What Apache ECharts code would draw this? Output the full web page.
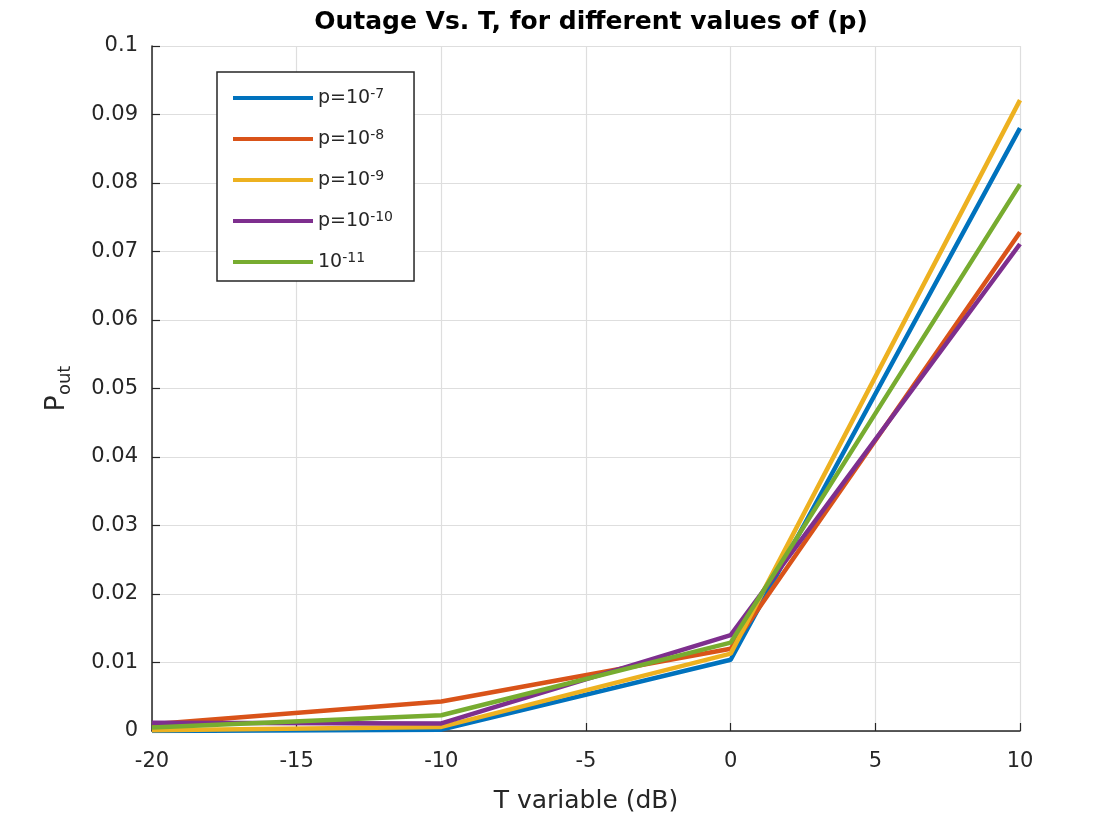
<!DOCTYPE html>
<html>
<head>
<meta charset="utf-8">
<title>Outage Vs. T</title>
<script src="https://cdn.jsdelivr.net/npm/echarts@6/dist/echarts.min.js"></script>
<style>
  html, body { margin: 0; padding: 0; background: #fff; }
  #chart { width: 1115px; height: 822px; }
</style>
</head>
<body>
<div id="chart"></div>
<script>
// T variable in dB (sample points)
const tValues = [-20, -10, 0, 10];

// Outage probability for each value of p
const seriesNames = ['p=10^-7', 'p=10^-8', 'p=10^-9', 'p=10^-10', '10^-11'];
const pOut_1e7  = [0.0000, 0.0002, 0.0104, 0.0880];
const pOut_1e8  = [0.0010, 0.0043, 0.0120, 0.0728];
const pOut_1e9  = [0.0001, 0.0006, 0.0113, 0.0921];
const pOut_1e10 = [0.0012, 0.0011, 0.0140, 0.0711];
const pOut_1e11 = [0.0005, 0.0023, 0.0129, 0.0798];

const xTicks = { min: -20, max: 10, interval: 5 };
const yTicks = { min: 0, max: 0.1, interval: 0.01 };

const colors = ['#0072BD', '#D95319', '#EDB120', '#7E2F8E', '#77AC30'];
const allValues = [pOut_1e7, pOut_1e8, pOut_1e9, pOut_1e10, pOut_1e11];

const font = '"DejaVu Sans", "Liberation Sans", Arial, sans-serif';
const textColor = '#262626';

function toPairs(vals) {
  return tValues.map((t, i) => [t, vals[i]]);
}

// Legend label: "p=10^-7" -> rich text with raised exponent
function legendLabel(name) {
  const parts = name.split('^');
  return parts[0] + '{sup|' + parts[1] + '}';
}

const chart = echarts.init(document.getElementById('chart'), null, { renderer: 'canvas' });

chart.setOption({
  backgroundColor: '#ffffff',
  animation: false,
  color: colors,
  title: {
    text: 'Outage Vs. T, for different values of (p)',
    left: 586,
    textAlign: 'center',
    top: 5,
    textStyle: {
      fontFamily: font,
      fontWeight: 'bold',
      fontSize: 25,
      color: '#000'
    }
  },
  legend: {
    left: 217,
    top: 72,
    orient: 'vertical',
    icon: 'rect',
    itemWidth: 80,
    itemHeight: 4,
    itemGap: 15,
    padding: [15, 21, 4, 16],
    borderColor: '#262626',
    borderWidth: 1.5,
    backgroundColor: '#fff',
    formatter: legendLabel,
    textStyle: {
      fontFamily: font,
      fontSize: 19,
      color: textColor,
      lineHeight: 22,
      rich: {
        sup: {
          fontFamily: font,
          fontSize: 14,
          color: textColor,
          verticalAlign: 'top',
          lineHeight: 22,
          padding: [0, 0, 12, 0]
        }
      }
    },
    data: seriesNames
  },
  grid: {
    left: 152,
    right: 95,
    top: 46,
    bottom: 91,
    containLabel: false
  },
  xAxis: {
    type: 'value',
    min: xTicks.min,
    max: xTicks.max,
    interval: xTicks.interval,
    name: 'T variable (dB)',
    nameLocation: 'middle',
    nameGap: 58,
    nameTextStyle: { fontFamily: font, fontSize: 25, color: textColor },
    axisLine: { show: true, onZero: false, lineStyle: { color: '#262626', width: 1.5 } },
    axisTick: { show: true, inside: true, length: 8, lineStyle: { color: '#262626', width: 1.2 } },
    axisLabel: { fontFamily: font, fontSize: 21, color: textColor, margin: 20 },
    splitLine: { show: true, lineStyle: { color: '#dedede', width: 1.2 } }
  },
  yAxis: {
    type: 'value',
    min: yTicks.min,
    max: yTicks.max,
    interval: yTicks.interval,
    name: 'P{sub|out}',
    nameLocation: 'middle',
    nameRotate: 90,
    nameGap: 78,
    nameTextStyle: {
      fontFamily: font,
      fontSize: 27,
      color: textColor,
      lineHeight: 34,
      rich: {
        sub: {
          fontFamily: font,
          fontSize: 18,
          color: textColor,
          verticalAlign: 'bottom',
          lineHeight: 34,
          padding: [16, 0, 0, 0]
        }
      }
    },
    axisLine: { show: true, onZero: false, lineStyle: { color: '#262626', width: 1.5 } },
    axisTick: { show: true, inside: true, length: 8, lineStyle: { color: '#262626', width: 1.2 } },
    axisLabel: { fontFamily: font, fontSize: 21, color: textColor, margin: 14 },
    splitLine: { show: true, lineStyle: { color: '#dedede', width: 1.2 } }
  },
  series: seriesNames.map((name, i) => ({
    name: name,
    type: 'line',
    data: toPairs(allValues[i]),
    showSymbol: false,
    symbol: 'none',
    lineStyle: { width: 4.5, color: colors[i] },
    itemStyle: { color: colors[i] },
    emphasis: { disabled: true }
  }))
});
</script>
</body>
</html>
